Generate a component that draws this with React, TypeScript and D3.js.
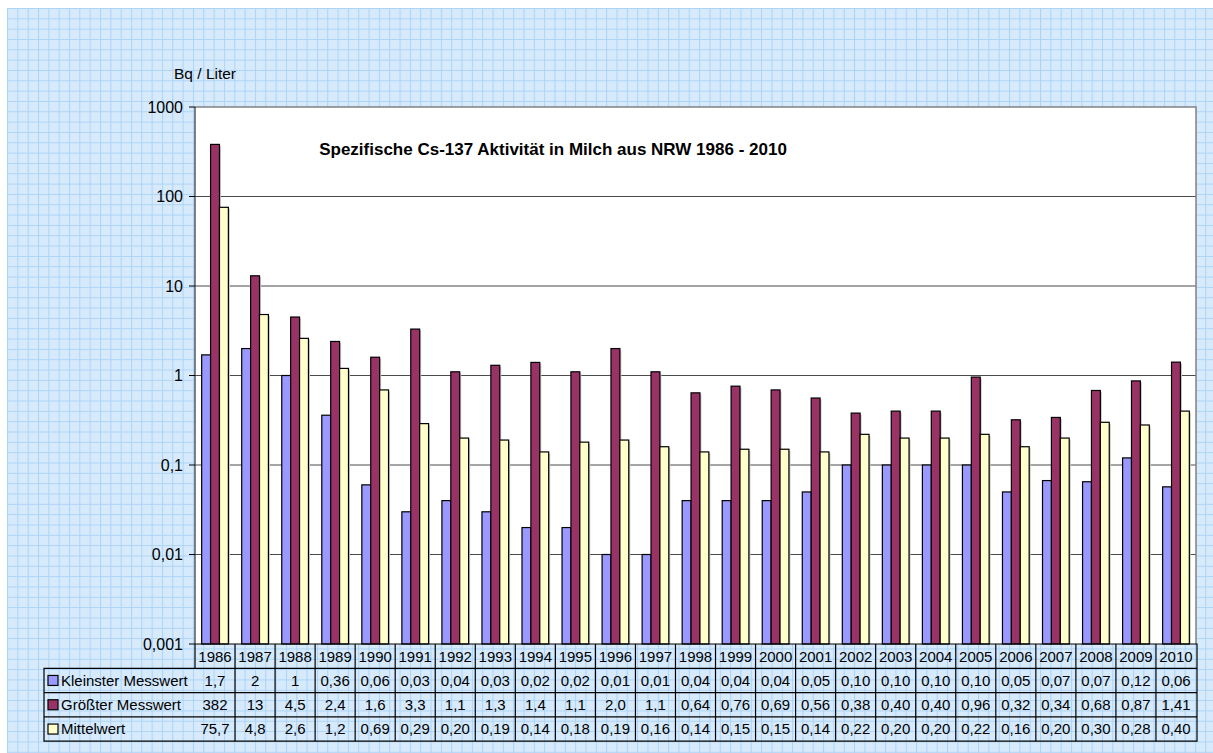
import React from 'react';
import * as d3 from 'd3';

const years = ['1986', '1987', '1988', '1989', '1990', '1991', '1992', '1993', '1994', '1995', '1996', '1997', '1998',
  '1999', '2000', '2001', '2002', '2003', '2004', '2005', '2006', '2007', '2008', '2009', '2010'];

const seriesNames = ['Kleinster Messwert', 'Größter Messwert', 'Mittelwert'];
const seriesColors = ['#9999ff', '#993366', '#ffffcc'];

// bar heights
const minValues = [1.7, 2, 1, 0.36, 0.06, 0.03, 0.04, 0.03, 0.02, 0.02, 0.01, 0.01, 0.04, 0.04, 0.04, 0.05, 0.1, 0.1, 0.1, 0.1, 0.05, 0.067, 0.065, 0.12, 0.057];
const maxValues = [382, 13, 4.5, 2.4, 1.6, 3.3, 1.1, 1.3, 1.4, 1.1, 2.0, 1.1, 0.64, 0.76, 0.69, 0.56, 0.38, 0.4, 0.4, 0.96, 0.32, 0.34, 0.68, 0.87, 1.41];
const meanValues = [75.7, 4.8, 2.6, 1.2, 0.69, 0.29, 0.2, 0.19, 0.14, 0.18, 0.19, 0.16, 0.14, 0.15, 0.15, 0.14, 0.22, 0.2, 0.2, 0.22, 0.16, 0.2, 0.3, 0.28, 0.4];

// data table texts
const minLabels = ['1,7', '2', '1', '0,36', '0,06', '0,03', '0,04', '0,03', '0,02', '0,02', '0,01', '0,01', '0,04', '0,04', '0,04', '0,05', '0,10', '0,10', '0,10', '0,10', '0,05', '0,07', '0,07', '0,12', '0,06'];
const maxLabels = ['382', '13', '4,5', '2,4', '1,6', '3,3', '1,1', '1,3', '1,4', '1,1', '2,0', '1,1', '0,64', '0,76', '0,69', '0,56', '0,38', '0,40', '0,40', '0,96', '0,32', '0,34', '0,68', '0,87', '1,41'];
const meanLabels = ['75,7', '4,8', '2,6', '1,2', '0,69', '0,29', '0,20', '0,19', '0,14', '0,18', '0,19', '0,16', '0,14', '0,15', '0,15', '0,14', '0,22', '0,20', '0,20', '0,22', '0,16', '0,20', '0,30', '0,28', '0,40'];

const yTicks = [1000, 100, 10, 1, 0.1, 0.01, 0.001];
const yTickLabels = ['1000', '100', '10', '1', '0,1', '0,01', '0,001'];

const W = 1213;
const H = 753;
const font = '"Liberation Sans", Arial, sans-serif';

export default function App() {
  const plot = { left: 195, right: 1196, top: 107, bottom: 644 };
  const rowH = 24.3;
  const tableLeft = 44;

  const x = d3.scaleBand<string>().domain(years).range([plot.left, plot.right]);
  const y = d3.scaleLog().domain([0.001, 1000]).range([plot.bottom, plot.top]);
  const bw = x.bandwidth() / 4.5;
  const offset = (x.bandwidth() - 3 * bw) / 2;

  const series = [minValues, maxValues, meanValues];
  const labels = [minLabels, maxLabels, meanLabels];

  const rowTop = (i: number) => plot.bottom + rowH * (i + 1);
  const tableBottom = plot.bottom + rowH * 4;

  return (
    <svg width={W} height={H} style={{ position: 'absolute', left: 0, top: 0, fontFamily: font }}>
      <defs>
        <pattern id="paper" width={10.33} height={10.33} patternUnits="userSpaceOnUse" x={7} y={8}>
          <rect width={10.33} height={10.33} fill="#d6eafc" />
          <path d="M0,0.5H10.33M0.5,0V10.33" stroke="#acd3f7" strokeWidth={1} />
        </pattern>
      </defs>
      <rect x={0} y={0} width={W} height={H} fill="#fff" />
      <rect x={7} y={8} width={W - 7} height={H - 8} fill="url(#paper)" />

      {/* plot area */}
      <rect x={plot.left} y={plot.top} width={plot.right - plot.left} height={plot.bottom - plot.top} fill="#fff" />
      {yTicks.slice(1, -1).map(t => (
        <line key={t} x1={plot.left} x2={plot.right} y1={y(t)} y2={y(t)} stroke="#4a4a4a" strokeWidth={1} />
      ))}
      <path d={`M${plot.left},${plot.top}H${plot.right}V${plot.bottom}`} fill="none" stroke="#808080" strokeWidth={1.5} />

      {/* bars */}
      {series.map((vals, s) =>
        vals.map((v, i) => {
          const bx = (x(years[i]) ?? 0) + offset + s * bw;
          const by = y(v);
          return (
            <g key={`${s}-${i}`}>
              <rect x={bx + 1.5} y={by + 1.5} width={bw} height={plot.bottom - by - 1.5} fill="#c8c8c8" />
              <rect x={bx} y={by} width={bw} height={plot.bottom - by} fill={seriesColors[s]} stroke="#000" strokeWidth={1.2} />
            </g>
          );
        })
      )}

      {/* y axis */}
      <line x1={plot.left} x2={plot.left} y1={plot.top} y2={plot.bottom} stroke="#333" strokeWidth={1.2} />
      {yTicks.map((t, i) => (
        <g key={t} transform={`translate(0,${y(t)})`}>
          <line x1={plot.left - 6} x2={plot.left} stroke="#000" />
          <text x={plot.left - 12} dy="0.35em" textAnchor="end" fontSize={16} fill="#000">{yTickLabels[i]}</text>
        </g>
      ))}
      <text x={174} y={79} fontSize={15.5} fill="#000">Bq / Liter</text>

      <text x={553} y={155} textAnchor="middle" fontSize={17} fontWeight="bold" fill="#000">
        Spezifische Cs-137 Aktivität in Milch aus NRW 1986 - 2010
      </text>

      {/* data table */}
      <g stroke="#000" strokeWidth={1.2} fill="none">
        <path d={`M${plot.left},${plot.bottom}H${plot.right + 1}V${tableBottom}H${tableLeft}V${rowTop(0)}H${plot.left}V${plot.bottom}`} />
        {[1, 2].map(r => (
          <line key={r} x1={tableLeft} x2={plot.right + 1} y1={rowTop(r)} y2={rowTop(r)} />
        ))}
        <line x1={plot.left} x2={plot.right + 1} y1={rowTop(0)} y2={rowTop(0)} />
        {years.slice(1).map(yr => (
          <line key={yr} x1={x(yr)} x2={x(yr)} y1={plot.bottom} y2={tableBottom} />
        ))}
      </g>
      {years.map(yr => (
        <text key={yr} x={(x(yr) ?? 0) + x.bandwidth() / 2} y={plot.bottom + rowH / 2} dy="0.36em" textAnchor="middle" fontSize={15} fill="#000">{yr}</text>
      ))}
      {labels.map((lab, s) => (
        <g key={s}>
          <rect x={48} y={rowTop(s) + rowH / 2 - 5} width={10} height={10} fill={seriesColors[s]} stroke="#000" strokeWidth={1.2} />
          <text x={61} y={rowTop(s) + rowH / 2} dy="0.36em" fontSize={15} fill="#000">{seriesNames[s]}</text>
          {lab.map((l, i) => (
            <text key={i} x={(x(years[i]) ?? 0) + x.bandwidth() / 2} y={rowTop(s) + rowH / 2} dy="0.36em" textAnchor="middle" fontSize={15} fill="#000">{l}</text>
          ))}
        </g>
      ))}
    </svg>
  );
}
